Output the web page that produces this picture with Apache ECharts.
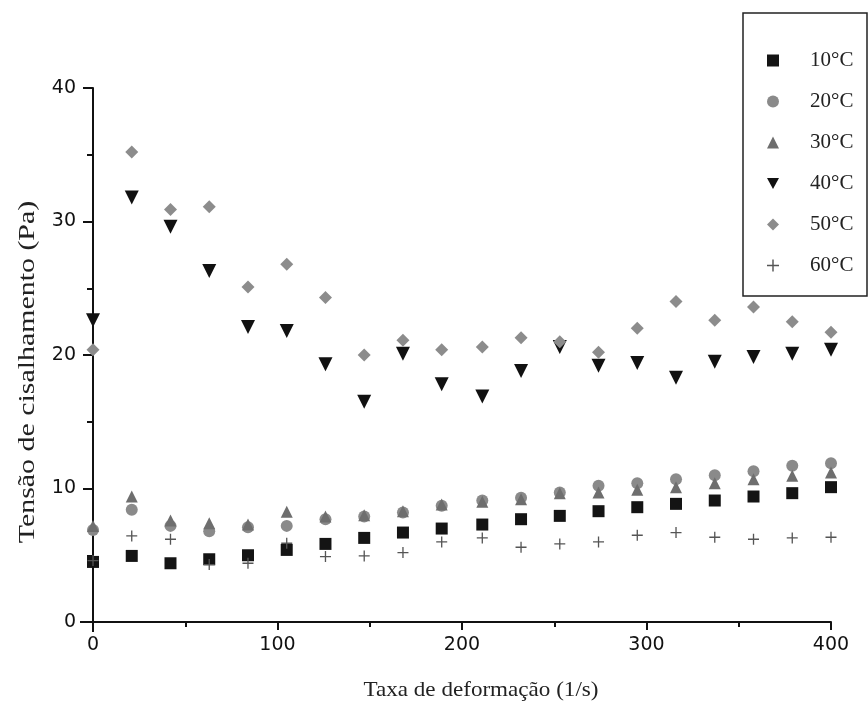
<!DOCTYPE html>
<html>
<head>
<meta charset="utf-8">
<script src="https://cdn.jsdelivr.net/npm/echarts@6/dist/echarts.min.js"></script>
<style>html,body{margin:0;padding:0;background:#fff}#c{width:868px;height:702px}</style>
</head>
<body>
<div id="c"></div>
<script>
const shearRate = [0, 21, 42, 63, 84, 105, 126, 147, 168, 189, 211, 232, 253, 274, 295, 316, 337, 358, 379, 400];
const t10 = [4.5, 4.95, 4.4, 4.7, 5.0, 5.4, 5.85, 6.3, 6.7, 7.0, 7.3, 7.7, 7.95, 8.3, 8.6, 8.85, 9.1, 9.4, 9.65, 10.1];
const t20 = [6.9, 8.4, 7.2, 6.8, 7.1, 7.2, 7.7, 7.9, 8.2, 8.7, 9.1, 9.3, 9.7, 10.2, 10.4, 10.7, 11.0, 11.3, 11.7, 11.9];
const t30 = [7.2, 9.4, 7.6, 7.4, 7.3, 8.25, 7.9, 8.0, 8.3, 8.8, 9.0, 9.2, 9.65, 9.7, 9.9, 10.1, 10.4, 10.7, 10.95, 11.2];
const t40 = [22.6, 31.8, 29.6, 26.3, 22.1, 21.8, 19.3, 16.5, 20.1, 17.8, 16.9, 18.8, 20.6, 19.2, 19.4, 18.3, 19.5, 19.85, 20.1, 20.4];
const t50 = [20.4, 35.2, 30.9, 31.1, 25.1, 26.8, 24.3, 20.0, 21.1, 20.4, 20.6, 21.3, 21.0, 20.2, 22.0, 24.0, 22.6, 23.6, 22.5, 21.7];
const t60 = [4.6, 6.45, 6.2, 4.3, 4.4, 5.9, 4.9, 4.95, 5.2, 6.0, 6.3, 5.6, 5.85, 6.0, 6.5, 6.7, 6.35, 6.2, 6.3, 6.35];
const seriesNames = ['10°C', '20°C', '30°C', '40°C', '50°C', '60°C'];
const xTitle = 'Taxa de deformação (1/s)';
const yTitle = 'Tensão de cisalhamento (Pa)';

const pair = arr => arr.map((v, i) => [shearRate[i], v]);
const plusPath = 'path://M4.4,0h1.2v10h-1.2zM0,4.4h10v1.2h-10z';

const styles = [
  {symbol: 'rect', size: 12, color: '#141414'},
  {symbol: 'circle', size: 12, color: '#8a8a8a'},
  {symbol: 'triangle', size: 12, color: '#6e6e6e'},
  {symbol: 'path://M0,0L10,0L5,9z', size: 14, color: '#111111'},
  {symbol: 'diamond', size: 13, color: '#8c8c8c'},
  {symbol: plusPath, size: 11, color: '#555555'}
];
const dataSets = [t10, t20, t30, t40, t50, t60];

const chart = echarts.init(document.getElementById('c'), null, {renderer: 'canvas'});
chart.setOption({
  animation: false,
  backgroundColor: '#fff',
  grid: {left: 93, right: 37, top: 88, bottom: 80},
  graphic: [
    {
      type: 'rect', shape: {x: 743, y: 13, width: 124, height: 283},
      style: {fill: 'none', stroke: '#222', lineWidth: 1.5}, z: 10
    },
    {
      type: 'line', shape: {x1: 80, y1: 622, x2: 93, y2: 622},
      style: {stroke: '#111', lineWidth: 2}
    },
    {
      type: 'line', shape: {x1: 93, y1: 622, x2: 93, y2: 632},
      style: {stroke: '#111', lineWidth: 2}
    },
    {
      type: 'text', x: 481, y: 690, scaleX: 1.05,
      style: {text: xTitle, font: '22px "Liberation Serif"', fill: '#222', align: 'center', verticalAlign: 'middle'}
    },
    {
      type: 'text', x: 28, y: 372, rotation: Math.PI / 2, scaleX: 1.3,
      style: {text: yTitle, font: '23px "Liberation Serif"', fill: '#222', align: 'center', verticalAlign: 'middle'}
    }
  ],
  legend: {
    orient: 'vertical', left: 743, top: 13,
    padding: [37, 8, 25, 24],
    itemWidth: 12, itemHeight: 12, itemGap: 20,
    textStyle: {fontFamily: 'Liberation Serif', fontSize: 21, color: '#222', lineHeight: 20, padding: [0, 0, 0, 26]},
    data: seriesNames
  },
  xAxis: {
    type: 'value', min: 0, max: 400, interval: 100,
    axisLine: {onZero: false, lineStyle: {color: '#111', width: 2}},
    axisTick: {show: true, length: 8, lineStyle: {color: '#111', width: 2}},
    minorTick: {show: true, splitNumber: 2, length: 5, lineStyle: {color: '#111', width: 2}},
    splitLine: {show: false},
    axisLabel: {fontFamily: 'DejaVu Sans', fontSize: 19, color: '#111', margin: 14}
  },
  yAxis: {
    type: 'value', min: 0, max: 40, interval: 10,
    axisLine: {show: true, onZero: false, lineStyle: {color: '#111', width: 2}},
    axisTick: {show: true, length: 10, lineStyle: {color: '#111', width: 2}},
    minorTick: {show: true, splitNumber: 2, length: 6, lineStyle: {color: '#111', width: 2}},
    splitLine: {show: false},
    axisLabel: {fontFamily: 'DejaVu Sans', fontSize: 19, color: '#111', margin: 17}
  },
  series: seriesNames.map((n, k) => ({
    name: n, type: 'scatter',
    symbol: styles[k].symbol, symbolSize: styles[k].size,
    itemStyle: {color: styles[k].color, opacity: 1},
    data: pair(dataSets[k])
  }))
});
</script>
</body>
</html>
